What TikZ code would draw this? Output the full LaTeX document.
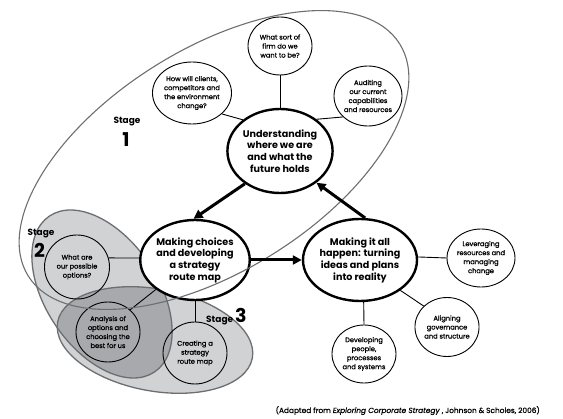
\documentclass[tikz,border=0pt]{standalone}
\usepackage{fontspec}
\usetikzlibrary{shapes.geometric,arrows.meta}
\newfontfamily\popfont{Poppins}
\newfontfamily\popsmall[FakeBold=0.9]{Poppins}
\definecolor{lightfill}{HTML}{D1D2D4}
\definecolor{darkfill}{HTML}{A7A9AC}
\definecolor{edgegray}{HTML}{6D6E71}
\tikzset{
  mainc/.style={ellipse, draw=black, line width=2.4pt, fill=white, inner sep=0pt, align=center,
    font=\popfont\bfseries\fontsize{9.6}{11.7}\selectfont},
  smallc/.style={ellipse, draw=black, line width=0.9pt, inner sep=0pt, align=center,
    font=\popsmall\fontsize{6.7}{9}\selectfont},
  conn/.style={draw=black, line width=0.9pt},
  bigarrow/.style={draw=black, line width=3pt, -{Triangle[length=9pt,width=9pt]}},
  stageedge/.style={draw=edgegray, line width=1.3pt},
  stagelbl/.style={font=\popfont\bfseries\fontsize{9}{10}\selectfont, inner sep=0pt},
  stagenum/.style={font=\popfont\bfseries\fontsize{19}{20}\selectfont, inner sep=0pt},
}
\begin{document}
\begin{tikzpicture}[x=1pt,y=-1pt]
\useasboundingbox (0,0) rectangle (563,419);
% stage 2 and 3 fills
\fill[lightfill, rotate around={-56:(102,294)}] (102,294) ellipse [x radius=94pt, y radius=56pt];
\fill[lightfill, rotate around={-10.5:(155,340)}] (155,340) ellipse [x radius=99pt, y radius=51pt];
\begin{scope}
  \clip[rotate around={-56:(102,294)}] (102,294) ellipse [x radius=94pt, y radius=56pt];
  \fill[darkfill, rotate around={-10.5:(155,340)}] (155,340) ellipse [x radius=99pt, y radius=51pt];
\end{scope}
\draw[stageedge, rotate around={-56:(102,294)}] (102,294) ellipse [x radius=94pt, y radius=56pt];
\draw[stageedge, rotate around={-10.5:(155,340)}] (155,340) ellipse [x radius=99pt, y radius=51pt];

% nodes
\node[mainc, minimum width=94pt, minimum height=84pt] (und) at (280,151) {Understanding\\where we are\\and what the\\future holds};
\node[mainc, minimum width=94pt, minimum height=80pt] (mc) at (195,260) {Making choices\\and developing\\a strategy\\route map};
\node[mainc, minimum width=86pt, minimum height=82pt] (mia) at (360,260) {Making it all\\happen: turning\\ideas and plans\\into reality};

\node[smallc, fill=white, minimum width=64pt, minimum height=58pt] (firm) at (280,46) {What sort of\\firm do we\\want to be?};
\node[smallc, fill=white, minimum width=63pt, minimum height=62pt] (cli) at (192,93) {How will clients,\\competitors and\\the environment\\change?};
\node[smallc, fill=white, minimum width=65pt, minimum height=60pt] (aud) at (368,96) {Auditing\\our current\\capabilities\\and resources};
\node[smallc, minimum width=65pt, minimum height=64pt] (opt) at (77,267) {What are\\our possible\\options?};
\node[smallc, minimum width=64pt, minimum height=60pt] (ana) at (108,332) {Analysis of\\options and\\choosing the\\best for us};
\node[smallc, minimum width=64pt, minimum height=62pt] (cre) at (195,353) {Creating a\\strategy\\route map};
\node[smallc, fill=white, minimum width=65pt, minimum height=58pt] (lev) at (481,258) {Leveraging\\resources and\\managing\\change};
\node[smallc, fill=white, minimum width=63pt, minimum height=59pt] (ali) at (447,327) {Aligning\\governance\\and structure};
\node[smallc, fill=white, minimum width=64pt, minimum height=58pt] (dev) at (364,354) {Developing\\people,\\processes\\and systems};

% connectors
\draw[conn] (firm.south) -- (und.north);
\draw[conn] (cli.-35) -- (und.140);
\draw[conn] (aud.220) -- (und.41);
\draw[conn] (opt.16) -- (mc.178);
\draw[conn] (ana.45) -- (mc.217);
\draw[conn] (mc.south) -- (cre.north);
\draw[conn] (mia.3) -- (lev.180);
\draw[conn] (mia.-37) -- (ali.138);
\draw[conn] (mia.-85) -- (dev.north);

% stage 1 outline
\draw[stageedge, line width=1.1pt, rotate around={32:(214,160)}] (214,160) ellipse [x radius=219pt, y radius=111pt];

% arrows
\draw[bigarrow] (und.223) -- (mc.92);
\draw[bigarrow] (mc.0) -- (mia.180);
\draw[bigarrow] (mia.83) -- (und.-41);

% stage labels
\node[stagelbl, anchor=base] (s1) at (127,124) {Stage};
\node[stagenum, anchor=base] (n1) at (126,147) {1};
\node[stagelbl, anchor=base] (s2) at (41,236) {Stage};
\node[stagenum, anchor=base west] (n2) at (34,258) {2};
\node[stagelbl, anchor=base west] (s3) at (206,323) {Stage};
\node[stagenum, anchor=base west] (n3) at (235,323) {3};

% caption
\node[anchor=base east, inner sep=0pt, font=\popsmall\fontsize{7.4}{8}\selectfont] (cap) at (540,413)
  {(Adapted from \textit{Exploring Corporate Strategy} , Johnson \& Scholes, 2006)};
\end{tikzpicture}
\end{document}
